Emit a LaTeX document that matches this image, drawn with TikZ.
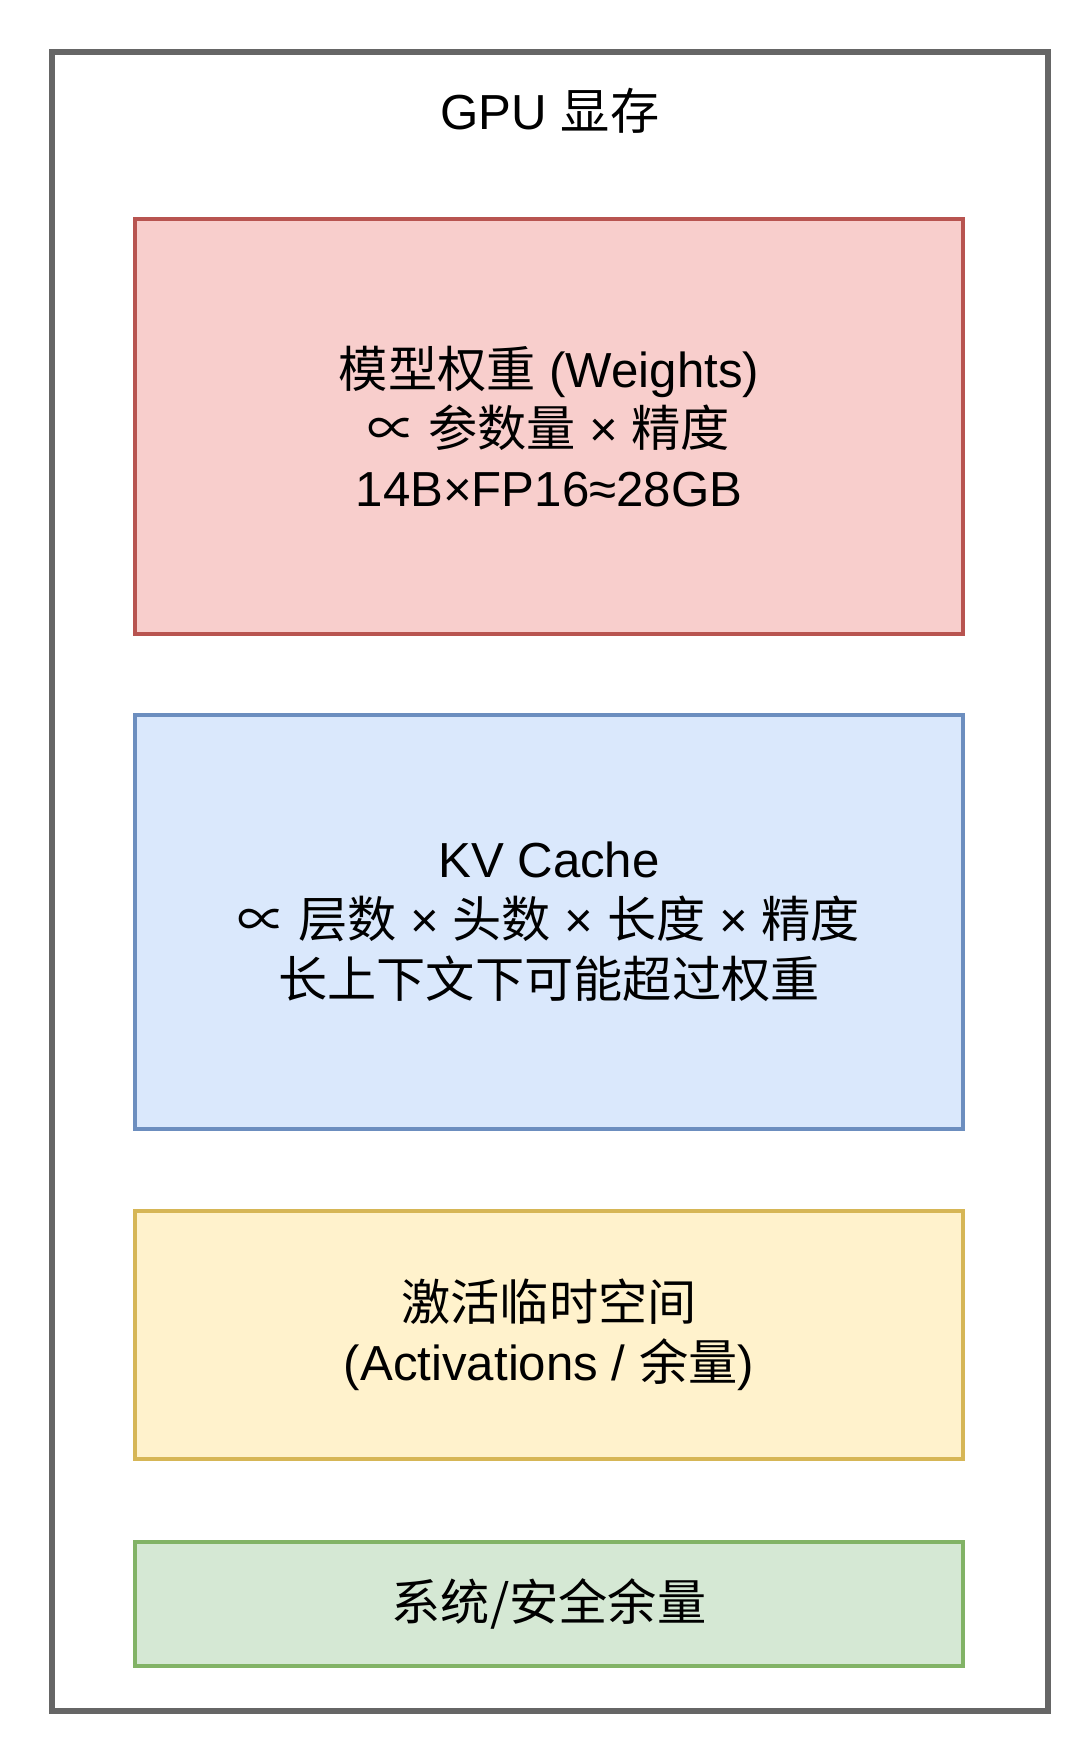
\documentclass[tikz,border=0pt]{standalone}
\usepackage{fontspec}
\setmainfont{Liberation Sans}
\newfontfamily\cjk{Noto Sans CJK SC}
\definecolor{memline}{HTML}{666666}
\definecolor{redfill}{HTML}{F8CECC}\definecolor{redline}{HTML}{B85450}
\definecolor{bluefill}{HTML}{DAE8FC}\definecolor{blueline}{HTML}{6C8EBF}
\definecolor{yellowfill}{HTML}{FFF2CC}\definecolor{yellowline}{HTML}{D6B656}
\definecolor{greenfill}{HTML}{D5E8D4}\definecolor{greenline}{HTML}{82B366}
\tikzset{
  membox/.style={draw, line width=0.9pt, minimum width=8.28cm, align=center,
    font=\fontsize{14}{17}\selectfont},
}
\begin{document}
\begin{tikzpicture}
				\useasboundingbox (0,0) rectangle (10.8,-17.42);
				% GPU memory frame
				\draw[memline, line width=1.7pt] (0.52,-0.52) rectangle (10.48,-17.11);
				\node[font=\fontsize{14}{17}\selectfont] (gpu) at (5.5,-1.11) {GPU {\cjk 显存}};
				% weights
				\node[membox, fill=redfill, draw=redline, minimum height=4.15cm] (weights) at (5.49,-4.265)
					{{\cjk 模型权重} (Weights)\\{\cjk ∝ 参数量} × {\cjk 精度}\\14B×FP16≈28GB};
				% kv cache
				\node[membox, fill=bluefill, draw=blueline, minimum height=4.14cm] (kvcache) at (5.49,-9.22)
					{KV Cache\\{\cjk ∝ 层数} × {\cjk 头数} × {\cjk 长度} × {\cjk 精度}\\{\cjk 长上下文下可能超过权重}};
				% activations
				\node[membox, fill=yellowfill, draw=yellowline, minimum height=2.48cm] (activations) at (5.49,-13.35)
					{{\cjk 激活临时空间}\\(Activations / {\cjk 余量})};
				% reserve
				\node[membox, fill=greenfill, draw=greenline, minimum height=1.24cm] (reserve) at (5.49,-16.04)
					{{\cjk 系统/安全余量}};
			\end{tikzpicture}
\end{document}
